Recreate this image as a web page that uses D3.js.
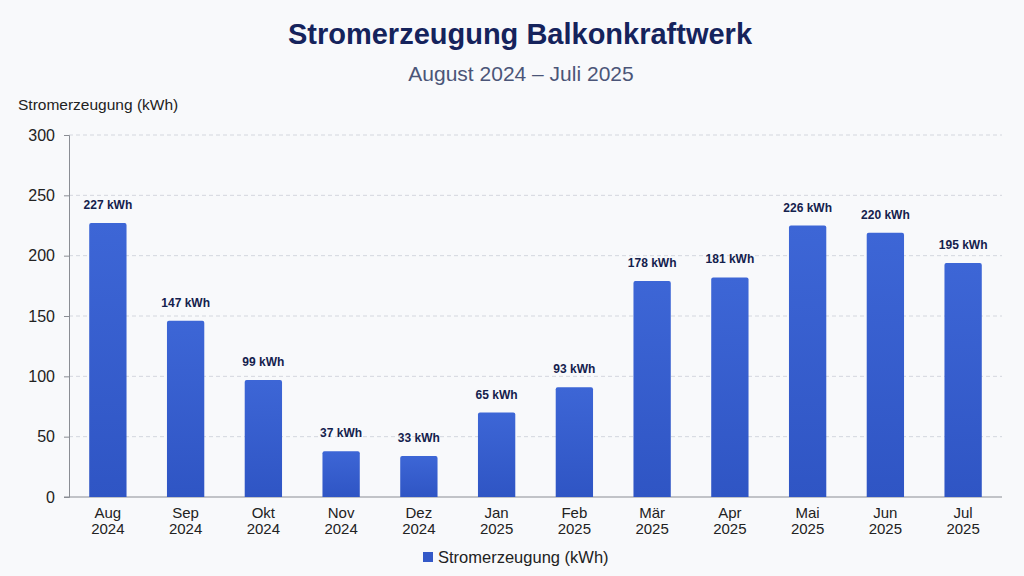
<!DOCTYPE html>
<html>
<head>
<meta charset="utf-8">
<script src="https://cdn.jsdelivr.net/npm/d3@7"></script>
<style>
  body { margin: 0; background: #f8f9fb; }
  svg { font-family: "Liberation Sans", Arial, sans-serif; }
</style>
</head>
<body>
<div id="chart"></div>
<script>
// data
const months = ['Aug', 'Sep', 'Okt', 'Nov', 'Dez', 'Jan', 'Feb', 'Mär', 'Apr', 'Mai', 'Jun', 'Jul'];
const years = ['2024', '2024', '2024', '2024', '2024', '2025', '2025', '2025', '2025', '2025', '2025', '2025'];
// bar heights as drawn
const values = [227, 146, 97, 38, 34, 70, 91, 179, 182, 225, 219, 194];
// value labels as printed above the bars
const labels = [227, 147, 99, 37, 33, 65, 93, 178, 181, 226, 220, 195];
const yTicks = [0, 50, 100, 150, 200, 250, 300];

const width = 1024;
const height = 576;
const margin = {top: 135, right: 22, bottom: 79, left: 69};

const svg = d3.select('#chart')
  .append('svg')
  .attr('width', width)
  .attr('height', height);

svg.append('rect').attr('width', width).attr('height', height).attr('fill', '#f8f9fb');

const x = d3.scaleBand()
  .domain(d3.range(months.length))
  .range([margin.left, width - margin.right])
  .paddingInner(0.52)
  .paddingOuter(0.26);

const y = d3.scaleLinear()
  .domain([0, 300])
  .range([height - margin.bottom, margin.top]);

// gradient for the bars
const grad = svg.append('defs').append('linearGradient')
  .attr('id', 'barGrad').attr('x1', 0).attr('x2', 0).attr('y1', 0).attr('y2', 1);
grad.append('stop').attr('offset', '0%').attr('stop-color', '#3d66d6');
grad.append('stop').attr('offset', '100%').attr('stop-color', '#2f55c4');

// grid lines
svg.append('g')
  .selectAll('line')
  .data(yTicks.filter(d => d > 0))
  .enter()
  .append('line')
  .attr('x1', margin.left)
  .attr('x2', width - margin.right)
  .attr('y1', d => y(d))
  .attr('y2', d => y(d))
  .attr('stroke', '#d4d7de')
  .attr('stroke-dasharray', '4,3');

// y axis
const yAxis = svg.append('g')
  .attr('transform', `translate(${margin.left},0)`)
  .call(d3.axisLeft(y).tickValues(yTicks).tickSize(5).tickPadding(9));
yAxis.select('.domain').attr('stroke', '#8a8d94');
yAxis.selectAll('.tick line').attr('stroke', '#8a8d94');
yAxis.selectAll('.tick text')
  .attr('font-size', 16)
  .attr('fill', '#222');

// baseline
svg.append('line')
  .attr('x1', margin.left - 5)
  .attr('x2', width - margin.right)
  .attr('y1', y(0))
  .attr('y2', y(0))
  .attr('stroke', '#8a8d94');

// bars
svg.append('g')
  .selectAll('path')
  .data(values)
  .enter()
  .append('path')
  .attr('d', (d, i) => {
    const x0 = x(i), w = x.bandwidth(), top = y(d), bottom = y(0), r = 2;
    return `M${x0},${bottom}V${top + r}Q${x0},${top} ${x0 + r},${top}H${x0 + w - r}Q${x0 + w},${top} ${x0 + w},${top + r}V${bottom}Z`;
  })
  .attr('fill', 'url(#barGrad)');

// value labels
svg.append('g')
  .selectAll('text')
  .data(values)
  .enter()
  .append('text')
  .attr('x', (d, i) => x(i) + x.bandwidth() / 2)
  .attr('y', d => y(d) - 14)
  .attr('text-anchor', 'middle')
  .attr('font-size', 12)
  .attr('font-weight', 'bold')
  .attr('fill', '#14214d')
  .text((d, i) => labels[i] + ' kWh');

// x labels (two lines)
const xl = svg.append('g')
  .selectAll('text')
  .data(months)
  .enter()
  .append('text')
  .attr('text-anchor', 'middle')
  .attr('font-size', 15)
  .attr('fill', '#222');
xl.append('tspan')
  .attr('x', (d, i) => x(i) + x.bandwidth() / 2)
  .attr('y', 518)
  .text(d => d);
xl.append('tspan')
  .attr('x', (d, i) => x(i) + x.bandwidth() / 2)
  .attr('y', 534)
  .text((d, i) => years[i]);

// titles
svg.append('text')
  .attr('x', 520).attr('y', 44)
  .attr('text-anchor', 'middle')
  .attr('font-size', 29)
  .attr('font-weight', 'bold')
  .attr('fill', '#15235c')
  .text('Stromerzeugung Balkonkraftwerk');

svg.append('text')
  .attr('x', 521).attr('y', 81)
  .attr('text-anchor', 'middle')
  .attr('font-size', 21)
  .attr('fill', '#4b5578')
  .text('August 2024 – Juli 2025');

svg.append('text')
  .attr('x', 18).attr('y', 110)
  .attr('font-size', 15.5)
  .attr('fill', '#222')
  .text('Stromerzeugung (kWh)');

// legend
const legend = svg.append('g').attr('transform', 'translate(423,552)');
legend.append('rect').attr('width', 10).attr('height', 10).attr('fill', '#3459c8');
legend.append('text')
  .attr('x', 15).attr('y', 11)
  .attr('font-size', 16.5)
  .attr('fill', '#222')
  .text('Stromerzeugung (kWh)');
</script>
</body>
</html>
